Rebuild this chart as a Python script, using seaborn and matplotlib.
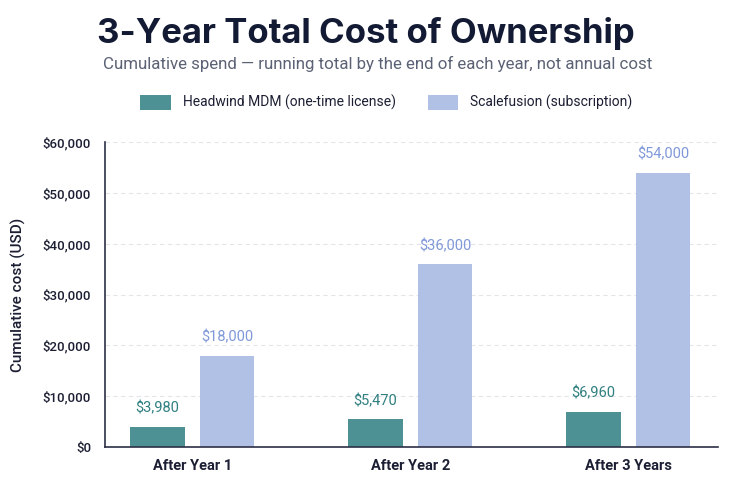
import pandas as pd
import matplotlib.pyplot as plt
import seaborn as sns
from matplotlib.patches import Patch
from matplotlib.ticker import FuncFormatter

periods = ['After Year 1', 'After Year 2', 'After 3 Years']
headwind = [3980, 5470, 6960]
scalefusion = [18000, 36000, 54000]
series = ['Headwind MDM (one-time license)', 'Scalefusion (subscription)']

df = pd.DataFrame({
    'period': periods * 2,
    'cost': headwind + scalefusion,
    'vendor': [series[0]] * 3 + [series[1]] * 3,
})

bar_colors = {series[0]: '#4e9194', series[1]: '#b1c1e6'}
label_colors = {series[0]: '#2f7f80', series[1]: '#7f98d8'}

sns.set_style('white')
plt.rcParams['font.family'] = ['Roboto', 'DejaVu Sans']

fig = plt.figure(figsize=(7.5, 5), dpi=100)
ax = fig.add_axes([0.14, 0.106, 0.817, 0.61])

sns.barplot(data=df, x='period', y='cost', hue='vendor', palette=bar_colors,
            width=0.64, gap=0.22, ax=ax, legend=False, saturation=1,
            edgecolor='none')

# value labels
for cont, name in zip(ax.containers, series):
    ax.bar_label(cont, labels=[f'${v:,.0f}' for v in cont.datavalues],
                 padding=8, color=label_colors[name], fontsize=10.5)

ax.set_ylim(0, 60000)
ax.set_xlim(-0.4, 2.41)
ax.set_yticks(range(0, 60001, 10000))
ax.yaxis.set_major_formatter(FuncFormatter(lambda v, p: f'${v:,.0f}'))
ax.grid(axis='y', color='#e3e5ea', linestyle=(0, (4, 3)), linewidth=0.8)
ax.set_axisbelow(True)

for s in ['top', 'right']:
    ax.spines[s].set_visible(False)
for s in ['left', 'bottom']:
    ax.spines[s].set_color('#2c2f45')
    ax.spines[s].set_linewidth(1.2)

ax.tick_params(axis='y', length=0, pad=10, labelsize=9.5, labelcolor='#1c1f33')
ax.tick_params(axis='x', length=0, pad=9, labelsize=10.5, labelcolor='#1c1f33')
for t in ax.get_xticklabels():
    t.set_fontweight('bold')
for t in ax.get_yticklabels():
    t.set_fontweight('medium')

ax.set_xlabel('')
ax.set_ylabel('Cumulative cost (USD)', fontsize=11, color='#1c1f33',
              fontweight='medium', labelpad=12)

fig.text(0.488, 0.934, '3-Year Total Cost of Ownership', ha='center', va='center',
         fontsize=25, fontweight='bold', color='#131a33', family=['Inter', 'DejaVu Sans'])
fig.text(0.503, 0.872, 'Cumulative spend \u2014 running total by the end of each year, not annual cost',
         ha='center', va='center', fontsize=12.2, color='#5c6275')

handles = [Patch(facecolor=bar_colors[s], edgecolor='none') for s in series]
fig.legend(handles, series, loc='center', bbox_to_anchor=(0.515, 0.795), ncol=2,
           frameon=False, fontsize=10, handlelength=2.2, handleheight=1.3,
           columnspacing=2.3, handletextpad=0.86, labelcolor='#1c1f33')

fig.savefig('out.png', dpi=100, facecolor='white')
